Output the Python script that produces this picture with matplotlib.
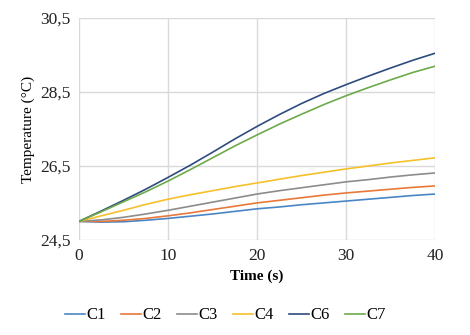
import matplotlib
matplotlib.use("Agg")
import matplotlib.pyplot as plt
import numpy as np

plt.rcParams['font.family'] = ['Liberation Serif', 'DejaVu Serif']

time_s = [0, 2.5, 5, 7.5, 10, 12.5, 15, 17.5, 20, 22.5, 25, 27.5, 30, 32.5, 35, 37.5, 40]

c1 = [25.0, 24.98, 24.99, 25.03, 25.08, 25.14, 25.2, 25.27, 25.34, 25.39, 25.45, 25.5, 25.55, 25.6, 25.65, 25.7, 25.74]
c2 = [25.0, 25.0, 25.03, 25.08, 25.15, 25.23, 25.32, 25.41, 25.5, 25.57, 25.64, 25.71, 25.77, 25.82, 25.87, 25.92, 25.96]
c3 = [25.0, 25.04, 25.11, 25.2, 25.3, 25.41, 25.52, 25.63, 25.74, 25.83, 25.91, 25.99, 26.07, 26.13, 26.2, 26.26, 26.31]
c4 = [25.0, 25.15, 25.3, 25.46, 25.6, 25.72, 25.83, 25.94, 26.04, 26.14, 26.24, 26.33, 26.42, 26.5, 26.58, 26.65, 26.72]
c6 = [25.0, 25.28, 25.57, 25.87, 26.19, 26.52, 26.87, 27.23, 27.57, 27.89, 28.19, 28.46, 28.7, 28.93, 29.15, 29.36, 29.55]
c7 = [25.0, 25.26, 25.53, 25.8, 26.09, 26.4, 26.72, 27.04, 27.34, 27.63, 27.9, 28.16, 28.4, 28.62, 28.83, 29.03, 29.2]

labels = ['C1', 'C2', 'C3', 'C4', 'C6', 'C7']
colors = ['#4A86C5', '#E8793A', '#8C8C8C', '#F5C02A', '#2E4C7E', '#6DAA4A']
series = [c1, c2, c3, c4, c6, c7]

yticks = [24.5, 26.5, 28.5, 30.5]
xticks = [0, 10, 20, 30, 40]

fig = plt.figure(figsize=(4.7, 3.35), dpi=100)
ax = fig.add_axes([0.168, 0.284, 0.758, 0.662])

for vals, lab, col in zip(series, labels, colors):
    ax.plot(time_s, vals, color=col, lw=1.2, label=lab)

ax.set_xlim(0, 40)
ax.set_ylim(24.5, 30.5)
ax.set_xticks(xticks)
ax.set_yticks(yticks)
ax.set_yticklabels([f"{v:.1f}".replace('.', ',') for v in yticks])
ax.tick_params(length=0, labelsize=12.5, pad=6, colors='#222222')
ax.grid(True, color='#D9D9D9', lw=1)
ax.set_axisbelow(True)
for s in ax.spines.values():
    s.set_visible(False)

ax.set_xlabel('Time (s)', fontsize=11, fontweight='bold', labelpad=4)
ax.set_ylabel('Temperature (°C)', fontsize=11, labelpad=4)

fig.legend(loc='lower center', bbox_to_anchor=(0.48, -0.01), ncol=6, frameon=False,
           fontsize=12, handlelength=1.2, handletextpad=0.1, columnspacing=0.9)

fig.savefig('out.png', dpi=100)
